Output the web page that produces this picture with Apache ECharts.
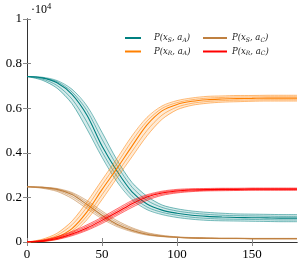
<!DOCTYPE html>
<html><head><meta charset="utf-8">
<script src="https://cdn.jsdelivr.net/npm/echarts@6/dist/echarts.min.js"></script>
<style>html,body{margin:0;padding:0;background:#fff}#c{width:298px;height:261px}</style>
</head><body><div id="c"></div>
<script>
// time samples
var xs = [0,10,20,30,40,50,60,70,80,90,100,110,120,130,140,150,160,170,180];
// P(x_S, a_A) (teal), values in units of 10^4
var tealLo2 = [0.742,0.726,0.690,0.620,0.506,0.380,0.270,0.190,0.145,0.123,0.110,0.102,0.097,0.095,0.094,0.093,0.092,0.091,0.091];
var tealLo1 = [0.742,0.731,0.702,0.641,0.537,0.405,0.294,0.207,0.157,0.133,0.120,0.111,0.106,0.103,0.102,0.101,0.100,0.099,0.099];
var tealMid = [0.742,0.736,0.714,0.662,0.568,0.430,0.318,0.225,0.170,0.143,0.129,0.120,0.115,0.112,0.110,0.109,0.108,0.107,0.107];
var tealHi1 = [0.742,0.737,0.719,0.673,0.589,0.461,0.343,0.246,0.187,0.155,0.139,0.130,0.124,0.120,0.118,0.117,0.116,0.115,0.115];
var tealHi2 = [0.742,0.739,0.724,0.685,0.610,0.492,0.368,0.267,0.205,0.166,0.149,0.139,0.133,0.129,0.126,0.125,0.124,0.123,0.123];
// P(x_R, a_A) (orange)
var orLo2 = [0,0.002,0.012,0.039,0.100,0.190,0.287,0.382,0.476,0.550,0.593,0.613,0.622,0.627,0.629,0.631,0.632,0.632,0.632];
var orLo1 = [0,0.003,0.017,0.049,0.117,0.212,0.308,0.406,0.500,0.569,0.605,0.622,0.630,0.634,0.636,0.637,0.638,0.638,0.638];
var orMid = [0,0.005,0.022,0.060,0.135,0.235,0.330,0.430,0.525,0.588,0.617,0.631,0.638,0.641,0.643,0.644,0.645,0.645,0.645];
var orHi1 = [0,0.008,0.030,0.077,0.157,0.256,0.352,0.453,0.542,0.599,0.625,0.638,0.645,0.648,0.650,0.650,0.651,0.651,0.651];
var orHi2 = [0,0.012,0.039,0.094,0.180,0.278,0.375,0.476,0.559,0.610,0.634,0.646,0.653,0.655,0.657,0.657,0.658,0.658,0.658];
// P(x_S, a_C) (brown)
var brLo2 = [0.248,0.241,0.227,0.195,0.149,0.104,0.069,0.046,0.031,0.024,0.020,0.017,0.016,0.015,0.015,0.014,0.014,0.014,0.014];
var brLo1 = [0.248,0.243,0.232,0.204,0.159,0.112,0.075,0.050,0.033,0.025,0.021,0.018,0.017,0.016,0.016,0.015,0.015,0.015,0.015];
var brMid = [0.248,0.245,0.236,0.213,0.168,0.120,0.080,0.053,0.035,0.026,0.021,0.018,0.017,0.016,0.016,0.015,0.015,0.015,0.015];
var brHi1 = [0.248,0.246,0.238,0.218,0.177,0.130,0.088,0.059,0.039,0.028,0.022,0.019,0.018,0.017,0.017,0.016,0.016,0.016,0.016];
var brHi2 = [0.248,0.246,0.240,0.222,0.186,0.139,0.096,0.064,0.042,0.030,0.023,0.020,0.018,0.017,0.017,0.016,0.016,0.016,0.016];
// P(x_R, a_C) (red)
var rdLo2 = [0,0.002,0.011,0.028,0.052,0.083,0.119,0.155,0.187,0.209,0.220,0.226,0.229,0.230,0.231,0.232,0.232,0.232,0.232];
var rdLo1 = [0,0.003,0.013,0.032,0.057,0.090,0.126,0.163,0.194,0.214,0.224,0.229,0.232,0.233,0.233,0.234,0.234,0.234,0.234];
var rdMid = [0,0.004,0.016,0.036,0.063,0.097,0.133,0.172,0.202,0.220,0.229,0.233,0.235,0.236,0.236,0.237,0.237,0.237,0.237];
var rdHi1 = [0,0.006,0.020,0.042,0.070,0.104,0.141,0.179,0.207,0.224,0.232,0.236,0.237,0.238,0.238,0.239,0.239,0.239,0.239];
var rdHi2 = [0,0.008,0.024,0.047,0.077,0.111,0.149,0.186,0.212,0.228,0.236,0.239,0.240,0.241,0.241,0.242,0.242,0.242,0.242];

var xTicks = [0,50,100,150];
var yTicks = [0,0.2,0.4,0.6,0.8,1];

var groups = [
  {name:'SA', color:'#008080', lines:[tealLo2,tealLo1,tealMid,tealHi1,tealHi2]},
  {name:'SC', color:'#bf8040', lines:[brLo2,brLo1,brMid,brHi1,brHi2]},
  {name:'RA', color:'#ff8000', lines:[orLo2,orLo1,orMid,orHi1,orHi2]},
  {name:'RC', color:'#ff0000', lines:[rdLo2,rdLo1,rdMid,rdHi1,rdHi2]}
];
var labels = {
  SA:'{i|P(x}{s|S}{i|, a}{s|A}{i|)}',
  SC:'{i|P(x}{s|S}{i|, a}{s|C}{i|)}',
  RA:'{i|P(x}{s|R}{i|, a}{s|A}{i|)}',
  RC:'{i|P(x}{s|R}{i|, a}{s|C}{i|)}'
};
function pairs(arr){ return xs.map(function(x,i){return [x,arr[i]];}); }

var series = [];
groups.forEach(function(g, gi){
  var lo = g.lines[0], hi = g.lines[4];
  series.push({type:'custom', name:g.name+'_band', silent:true, z:2+gi,
    data:[[0,0]],
    renderItem:function(params, api){
      var pts = [];
      for (var i=0;i<xs.length;i++) pts.push(api.coord([xs[i], hi[i]]));
      for (var j=xs.length-1;j>=0;j--) pts.push(api.coord([xs[j], lo[j]]));
      return {type:'polygon', shape:{points:pts}, style:{fill:g.color, opacity:0.16}};
    }});
  [0,1,3,4].forEach(function(k){
    series.push({type:'line', name:g.name+'_l'+k, data:pairs(g.lines[k]), smooth:0.3, symbol:'none',
      lineStyle:{color:g.color,width:0.7,opacity:0.75}, silent:true, z:2+gi});
  });
  series.push({type:'line', name:g.name, data:pairs(g.lines[2]), smooth:0.3, symbol:'none',
    itemStyle:{color:g.color}, lineStyle:{color:g.color,width:1.1}, z:2+gi});
});

var axisFont = {fontFamily:'Liberation Serif', fontSize:13, color:'#000'};
var richLeg = {
  i:{fontFamily:'DejaVu Serif', fontStyle:'italic', fontSize:8.5, color:'#222', lineHeight:11},
  s:{fontFamily:'DejaVu Serif', fontStyle:'italic', fontSize:6, color:'#222', lineHeight:11, padding:[4,0,0,0]}
};
function legFmt(n){ return labels[n]; }

var chart = echarts.init(document.getElementById('c'), null, {renderer:'canvas'});
chart.setOption({
  animation:false,
  grid:{left:27, right:1, top:19, bottom:19, containLabel:false},
  xAxis:[
    {type:'value', min:0, max:180, interval:50, position:'bottom',
      axisLine:{show:true, lineStyle:{color:'#333', width:1}},
      axisTick:{show:true, inside:true, length:4, lineStyle:{color:'#888'}, customValues:xTicks},
      axisLabel:Object.assign({margin:6, customValues:xTicks}, axisFont),
      splitLine:{show:false}},
    {type:'value', min:0, max:180, interval:50, position:'top',
      axisLine:{show:true, lineStyle:{color:'#333', width:1}},
      axisTick:{show:true, inside:true, length:4, lineStyle:{color:'#888'}, customValues:xTicks},
      axisLabel:{show:false}, splitLine:{show:false}}
  ],
  yAxis:[
    {type:'value', min:0, max:1, interval:0.2, position:'left',
      axisLine:{show:true, lineStyle:{color:'#333', width:1}},
      axisTick:{show:true, inside:true, length:4, lineStyle:{color:'#888'}},
      axisLabel:Object.assign({margin:5, formatter:function(v){return v===0?'0':(v===1?'1':String(+v.toFixed(1)));}}, axisFont),
      splitLine:{show:false}},
    {type:'value', min:0, max:1, interval:0.2, position:'right',
      axisLine:{show:true, lineStyle:{color:'#333', width:1}},
      axisTick:{show:true, inside:true, length:4, lineStyle:{color:'#888'}},
      axisLabel:{show:false}, splitLine:{show:false}}
  ],
  legend:[
    {data:['SA','RA'], orient:'vertical', left:125, top:33, itemGap:3.5, itemWidth:16, itemHeight:2,
      icon:'rect', formatter:legFmt, textStyle:{rich:richLeg, padding:[0,0,0,8]}, padding:0},
    {data:['SC','RC'], orient:'vertical', left:203, top:33, itemGap:3.5, itemWidth:24, itemHeight:2,
      icon:'rect', formatter:legFmt, textStyle:{rich:richLeg, padding:[0,0,0,0]}, padding:0}
  ],
  graphic:[
    {type:'text', left:31, top:1, style:{text:'{a|·10}{b|4}', rich:{
      a:{fontFamily:'Liberation Serif', fontSize:12, color:'#000', lineHeight:14, padding:[3,0,0,0]},
      b:{fontFamily:'Liberation Serif', fontSize:8.5, color:'#000', lineHeight:14, padding:[0,0,4,0]}}}}
  ],
  series:series
});
</script></body></html>
